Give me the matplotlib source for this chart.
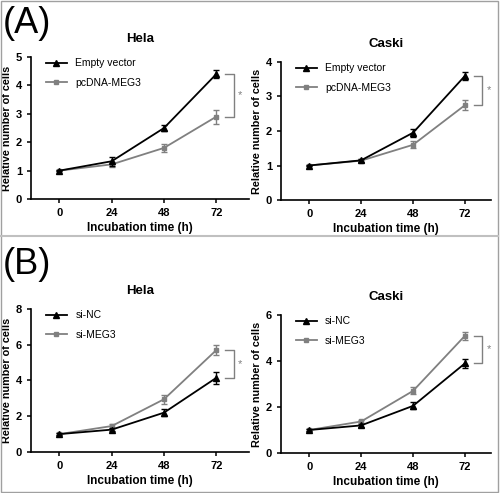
import matplotlib.pyplot as plt
from matplotlib.patches import Rectangle
from matplotlib.lines import Line2D

plt.rcParams['font.family'] = ['Liberation Sans', 'DejaVu Sans']

"""DATA"""
hours = [0, 24, 48, 72]
xtick_labels = ['0', '24', '48', '72']

# (A) overexpression
hela_a_ctrl = [1.0, 1.33, 2.5, 4.4]
hela_a_ctrl_err = [0.03, 0.15, 0.1, 0.15]
hela_a_meg3 = [1.0, 1.22, 1.8, 2.9]
hela_a_meg3_err = [0.03, 0.08, 0.15, 0.25]

caski_a_ctrl = [1.0, 1.15, 1.95, 3.6]
caski_a_ctrl_err = [0.02, 0.04, 0.12, 0.12]
caski_a_meg3 = [1.0, 1.14, 1.6, 2.75]
caski_a_meg3_err = [0.02, 0.04, 0.1, 0.15]

# (B) knockdown
hela_b_ctrl = [1.0, 1.25, 2.2, 4.15]
hela_b_ctrl_err = [0.04, 0.08, 0.2, 0.35]
hela_b_meg3 = [1.0, 1.45, 2.95, 5.7]
hela_b_meg3_err = [0.04, 0.1, 0.25, 0.3]

caski_b_ctrl = [1.0, 1.2, 2.05, 3.9]
caski_b_ctrl_err = [0.03, 0.05, 0.15, 0.2]
caski_b_meg3 = [1.0, 1.37, 2.7, 5.1]
caski_b_meg3_err = [0.03, 0.07, 0.15, 0.18]

panels = [
    # rect, title, ylim, yticks, labels, ctrl, ctrl_err, meg3, meg3_err
    ([0.062, 0.5963, 0.436, 0.288], 'Hela', 5, [0, 1, 2, 3, 4, 5],
     ('Empty vector', 'pcDNA-MEG3'),
     hela_a_ctrl, hela_a_ctrl_err, hela_a_meg3, hela_a_meg3_err),
    ([0.562, 0.5943, 0.42, 0.280], 'Caski', 4, [0, 1, 2, 3, 4],
     ('Empty vector', 'pcDNA-MEG3'),
     caski_a_ctrl, caski_a_ctrl_err, caski_a_meg3, caski_a_meg3_err),
    ([0.062, 0.0832, 0.436, 0.290], 'Hela', 8, [0, 2, 4, 6, 8],
     ('si-NC', 'si-MEG3'),
     hela_b_ctrl, hela_b_ctrl_err, hela_b_meg3, hela_b_meg3_err),
    ([0.562, 0.0811, 0.42, 0.280], 'Caski', 6, [0, 2, 4, 6],
     ('si-NC', 'si-MEG3'),
     caski_b_ctrl, caski_b_ctrl_err, caski_b_meg3, caski_b_meg3_err),
]

fig = plt.figure(figsize=(5, 4.93), dpi=100)
grey = '#808080'

for rect, title, ytop, yticks, labels, c, ce, m, me in panels:
    ax = fig.add_axes(rect)
    ax.errorbar(hours, c, yerr=ce, color='black', marker='^', markersize=4,
                lw=1.3, capsize=2, elinewidth=1, zorder=3)
    ax.errorbar(hours, m, yerr=me, color=grey, marker='s', markersize=2.5,
                lw=1.3, capsize=2, elinewidth=1, zorder=2)
    ax.set_xlim(-13, 87 if rect[2] > 0.43 else 84)
    ax.set_ylim(0, ytop)
    ax.set_xticks(hours)
    ax.set_xticklabels(xtick_labels)
    ax.set_yticks(yticks)
    ax.spines['top'].set_visible(False)
    ax.spines['right'].set_visible(False)
    ax.spines['left'].set_linewidth(1.2)
    ax.spines['bottom'].set_linewidth(1.2)
    ax.tick_params(width=1.1, length=3, labelsize=8)
    for t in ax.get_xticklabels() + ax.get_yticklabels():
        t.set_fontweight('bold')
    ax.set_title(title, fontsize=9.5, fontweight='bold', pad=11)
    ax.set_xlabel('Incubation time (h)', fontsize=8.5, fontweight='bold', labelpad=3)
    ax.set_ylabel('Relative number of cells', fontsize=7.8, fontweight='bold', labelpad=3)
    handles = [Line2D([], [], color='black', marker='^', markersize=4, lw=1.3),
               Line2D([], [], color=grey, marker='s', markersize=2.5, lw=1.3)]
    ax.legend(handles, labels, loc='upper left', frameon=False, fontsize=7.5,
              handlelength=2.0, labelspacing=0.9, borderaxespad=0.0,
              bbox_to_anchor=(0.05, 1.02))
    # significance bracket
    hi, lo = max(c[-1], m[-1]), min(c[-1], m[-1])
    ax.plot([76, 80, 80, 76], [hi, hi, lo, lo], color=grey, lw=1, clip_on=False)
    ax.text(82, (hi + lo) / 2, '*', color=grey, fontsize=8, ha='left', va='center')

fig.text(0.006, 0.952, '(A)', fontsize=26, va='center', ha='left')
fig.text(0.006, 0.464, '(B)', fontsize=26, va='center', ha='left')

# frame and separator
fig.patches.append(Rectangle((0.002, 0.002), 0.994, 0.996, transform=fig.transFigure,
                             fill=False, edgecolor='#a0a0a0', lw=1))
fig.lines.append(Line2D([0.002, 0.996], [0.521, 0.521], transform=fig.transFigure,
                        color='#c0c0c0', lw=1.5))

plt.savefig('out.png', dpi=100)
